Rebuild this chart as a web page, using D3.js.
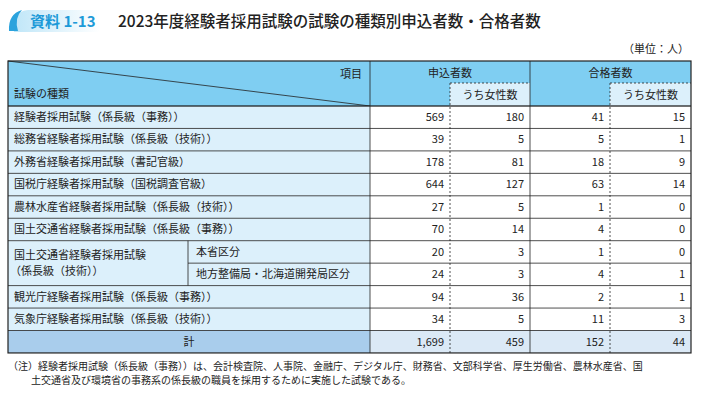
<!DOCTYPE html>
<html><head><meta charset="utf-8">
<script src="https://cdn.jsdelivr.net/npm/d3@7"></script>
<style>body{margin:0;background:#fff;font-family:"Noto Sans CJK JP",sans-serif;}</style>
</head><body><div id="chart"></div>
<script>
var labels = ['経験者採用試験（係長級（事務））','総務省経験者採用試験（係長級（技術））','外務省経験者採用試験（書記官級）','国税庁経験者採用試験（国税調査官級）','農林水産省経験者採用試験（係長級（技術））','国土交通省経験者採用試験（係長級（事務））','本省区分','地方整備局・北海道開発局区分','観光庁経験者採用試験（係長級（事務））','気象庁経験者採用試験（係長級（技術））'];
var applicants = [569,39,178,644,27,70,20,24,94,34];
var applicantsWomen = [180,5,81,127,5,14,3,3,36,5];
var passed = [41,5,18,63,1,4,1,4,2,11];
var passedWomen = [15,1,9,14,0,0,0,1,1,3];
var totals = [1699,459,152,44];

var W = 710, H = 406;
var svg = d3.select('#chart').append('svg').attr('width', W).attr('height', H);
var L = 8, R = 691, split = 188, c0 = 370, colX = [370, 450, 530, 610, 691];
var headTop = 61, rowH = 22.45, bodyTop = 106;
var y = d3.scaleLinear().domain([0, 11]).range([bodyTop, bodyTop + 11 * rowH]);
var fmt = d3.format(',');
var lblBg = '#dcf0fb', headBg = '#7fcef2', totBg = '#a9cdec', totNum = '#dbe9f6';

// title badge
var grad = svg.append('defs').append('linearGradient').attr('id', 'bg');
grad.append('stop').attr('offset', '0').attr('stop-color', '#bfe6f8');
grad.append('stop').attr('offset', '1').attr('stop-color', '#ffffff');
svg.append('path').attr('d', 'M14,32 Q10,12 28,10 L100,10 L100,32 Z').attr('fill', 'url(#bg)');
svg.append('path').attr('d', 'M9,31 Q8,14 22,10 Q14,18 18,31 Z').attr('fill', '#2ba3dd');
svg.append('text').attr('x', 30).attr('y', 27).attr('font-size', 15).attr('fill', '#1d9ad8').attr('font-weight', 'bold').text('資料 1-13');
svg.append('text').attr('x', 118).attr('y', 27).attr('font-size', 15.5).attr('fill', '#222').attr('font-weight', 500).text('2023年度経験者採用試験の試験の種類別申込者数・合格者数');
svg.append('text').attr('x', R - 2).attr('y', 53).attr('font-size', 11).attr('text-anchor', 'end').attr('fill', '#222').text('（単位：人）');

function rect(x, yy, w, h, fill) {
  svg.append('rect').attr('x', x).attr('y', yy).attr('width', w).attr('height', h).attr('fill', fill);
}
function line(x1, y1, x2, y2, dash, w) {
  svg.append('line').attr('x1', x1).attr('y1', y1).attr('x2', x2).attr('y2', y2)
    .attr('stroke', '#222').attr('stroke-width', w || 0.8).attr('stroke-dasharray', dash || null);
}
function txt(x, yy, s, anchor, size) {
  svg.append('text').attr('x', x).attr('y', yy).attr('font-size', size || 11).attr('fill', '#222')
    .attr('text-anchor', anchor || 'start').text(s);
}

// header
rect(L, headTop, R - L, bodyTop - headTop, headBg);
rect(colX[1], headTop + 22, colX[2] - colX[1], bodyTop - headTop - 22, lblBg);
rect(colX[3], headTop + 22, colX[4] - colX[3], bodyTop - headTop - 22, lblBg);
line(L, headTop, c0, bodyTop);
txt(c0 - 8, headTop + 17, '項目', 'end');
txt(L + 6, headTop + 37, '試験の種類');
txt((colX[0] + colX[2]) / 2, headTop + 16, '申込者数', 'middle');
txt((colX[2] + colX[4]) / 2, headTop + 16, '合格者数', 'middle');
txt((colX[1] + colX[2]) / 2, headTop + 38, 'うち女性数', 'middle');
txt((colX[3] + colX[4]) / 2, headTop + 38, 'うち女性数', 'middle');
line(colX[1], headTop + 22, colX[2], headTop + 22, '2,2');
line(colX[3], headTop + 22, colX[4], headTop + 22, '2,2');

// body
labels.forEach(function(s, i) {
  var y0 = y(i);
  var sub = (i === 6 || i === 7);
  rect(L, y0, c0 - L, rowH, lblBg);
  txt(sub ? split + 8 : L + 6, y0 + 15, s);
  [applicants, applicantsWomen, passed, passedWomen].forEach(function(arr, j) {
    txt(colX[j + 1] - 6, y0 + 15, fmt(arr[i]), 'end');
  });
  line(sub ? split : L, y0, R, y0);
});
// merged label for MLIT technical
rect(L + 1, y(6) + 1, split - L - 2, 2 * rowH - 2, lblBg);
txt(L + 6, y(6) + 18, '国土交通省経験者採用試験');
txt(L + 2, y(6) + 34, '（係長級（技術））');
line(L, y(6), split, y(6));

// total
var yt = y(10);
rect(L, yt, c0 - L, rowH, totBg);
rect(c0, yt, R - c0, rowH, totNum);
txt((L + c0) / 2, yt + 15, '計', 'middle');
totals.forEach(function(v, j) { txt(colX[j + 1] - 6, yt + 15, fmt(v), 'end'); });
line(L, yt, R, yt);

// vertical rules
var bottom = y(11);
line(c0, headTop, c0, bottom);
line(split, y(6), split, y(8));
line(colX[2], headTop, colX[2], bottom);
line(colX[1], headTop + 22, colX[1], bottom, '2,2');
line(colX[3], headTop + 22, colX[3], bottom, '2,2');
line(L, bodyTop, R, bodyTop);
svg.append('rect').attr('x', L).attr('y', headTop).attr('width', R - L).attr('height', bottom - headTop)
  .attr('fill', 'none').attr('stroke', '#222').attr('stroke-width', 1.2);

// note
txt(L, 370, '（注）経験者採用試験（係長級（事務））は、会計検査院、人事院、金融庁、デジタル庁、財務省、文部科学省、厚生労働省、農林水産省、国', 'start', 10);
txt(L + 23, 384, '土交通省及び環境省の事務系の係長級の職員を採用するために実施した試験である。', 'start', 10);
</script></body></html>
